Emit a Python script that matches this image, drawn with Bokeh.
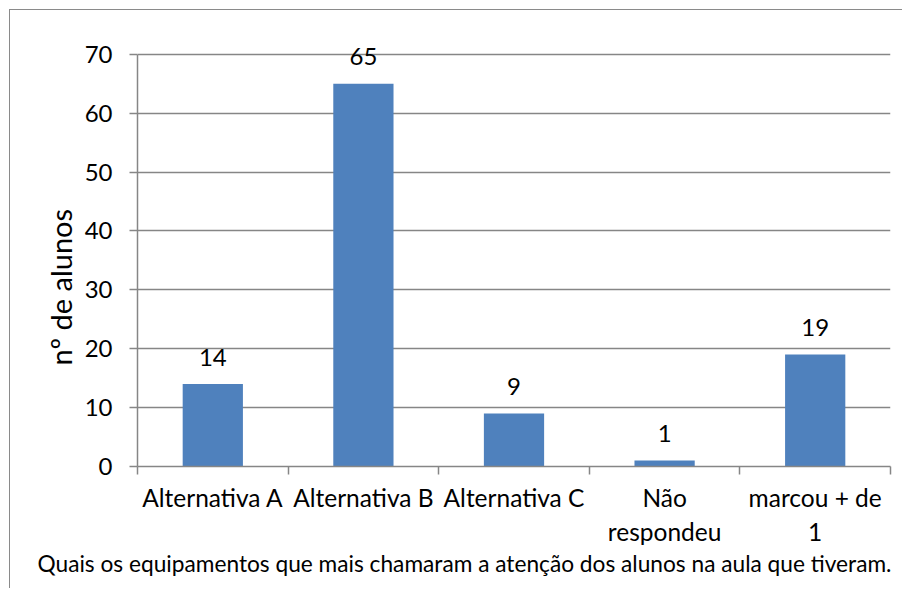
from bokeh.plotting import figure
from bokeh.models import FixedTicker, Range1d, ColumnDataSource, LabelSet, Title
from bokeh.core.properties import value
from bokeh.embed import file_html
from bokeh.resources import INLINE

categories = ["Alternativa A", "Alternativa B", "Alternativa C", "Não\nrespondeu", "marcou + de\n1"]
counts = [14, 65, 9, 1, 19]
y_ticks = [0, 10, 20, 30, 40, 50, 60, 70]
x_title = "Quais os equipamentos que mais chamaram a atenção dos alunos na aula que tiveram."
y_title = "nº de alunos"

FONT = "Lato"
GRAY = "#868686"
BAR = "#4F81BD"

# y range extends a bit above the last tick so the top data label is not clipped
p = figure(width=893, height=579, output_backend="svg", toolbar_location=None,
           x_range=Range1d(0, len(categories)), y_range=Range1d(0, 72),
           min_border_left=127, min_border_right=13, min_border_top=32, min_border_bottom=123)
p.styles = {"margin-left": "9px", "margin-top": "9px",
            "border-left": "1px solid #8a8a8a", "border-top": "1px solid #8a8a8a"}
p.outline_line_color = None
p.background_fill_color = "white"
p.border_fill_color = "white"

xs = [i + 0.5 for i in range(len(categories))]
src = ColumnDataSource(dict(x=xs, top=counts, label=[str(c) for c in counts]))
p.vbar(x="x", top="top", width=0.4, bottom=0, source=src, fill_color=BAR, line_color=None)
p.add_layout(LabelSet(x="x", y="top", text="label", source=src, text_align="center",
                      text_baseline="middle", y_offset=27, text_font=value(FONT),
                      text_font_size="24px", text_color="black"))

# x axis
xa = p.xaxis[0]
xa.ticker = FixedTicker(ticks=xs, minor_ticks=list(range(len(categories) + 1)))
xa.major_label_overrides = {x: c for x, c in zip(xs, categories)}
xa.major_tick_out = 0
xa.major_tick_in = 0
xa.minor_tick_out = 8
xa.minor_tick_in = 0
xa.minor_tick_line_color = GRAY
xa.minor_tick_line_width = 1.5
xa.axis_line_color = GRAY
xa.axis_line_width = 1.5
xa.major_label_text_font = FONT
xa.major_label_text_font_size = "24.5px"
xa.major_label_text_color = "black"
xa.major_label_standoff = 8

# y axis
ya = p.yaxis[0]
ya.ticker = FixedTicker(ticks=y_ticks)
ya.bounds = (0, 70)
ya.major_tick_out = 8
ya.major_tick_in = 0
ya.minor_tick_out = 0
ya.minor_tick_in = 0
ya.major_tick_line_color = GRAY
ya.major_tick_line_width = 1.5
ya.axis_line_color = GRAY
ya.axis_line_width = 1.5
ya.major_label_text_font = FONT
ya.major_label_text_font_size = "24px"
ya.major_label_text_color = "black"
ya.major_label_standoff = 17

# axis titles (as side titles so they can be offset like the original)
p.add_layout(Title(text=x_title, align="left", offset=-100, text_font=FONT,
                   text_font_size="22.7px", text_font_style="normal", text_color="black",
                   standoff=-3), "below")
p.add_layout(Title(text=y_title, align="left", offset=101, text_font=FONT,
                   text_font_size="29px", text_font_style="normal", text_color="black",
                   standoff=8), "left")

p.xgrid.grid_line_color = None
p.ygrid.grid_line_color = GRAY
p.ygrid.grid_line_width = 1.5
p.ygrid.ticker = FixedTicker(ticks=y_ticks)

open("out.html", "w").write(file_html(p, INLINE))
